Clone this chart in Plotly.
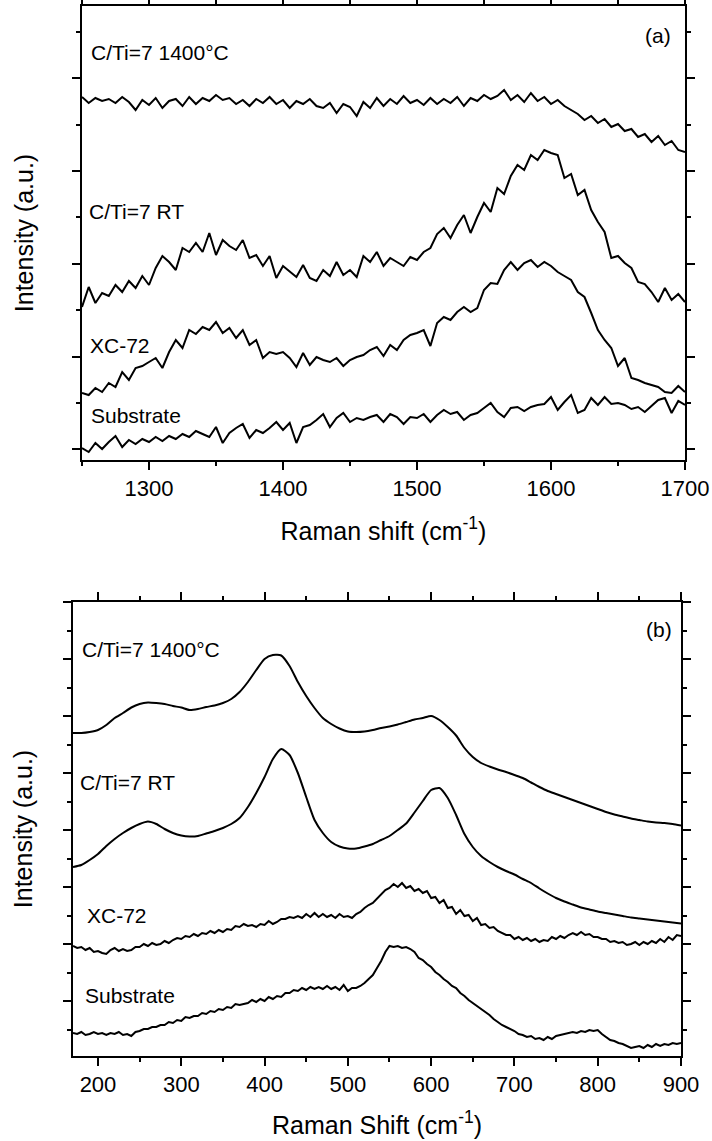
import plotly.graph_objects as go

# ---------------- Panel (a): 1250-1700 cm-1 ----------------
shift_a = list(range(1250, 1701, 5))

int_a_1400C = [
    363, 357, 362, 359, 361, 357, 363, 358, 350, 360,
    355, 362, 352, 359, 361, 354, 363, 356, 362, 359,
    365, 360, 362, 356, 360, 354, 361, 357, 363, 356,
    360, 352, 359, 356, 361, 354, 352, 357, 347, 356,
    353, 344, 358, 352, 362, 354, 361, 356, 364, 357,
    360, 355, 362, 356, 361, 357, 363, 354, 362, 359,
    365, 361, 364, 370, 360, 365, 358, 367, 359, 363,
    356, 360, 354, 350, 346, 340, 344, 337, 341, 333,
    336, 329, 331, 323, 326, 318, 324, 315, 319, 310,
    308]

int_a_RT = [
    153, 173, 157, 167, 164, 175, 168, 179, 172, 184,
    175, 192, 204, 198, 190, 212, 208, 217, 208, 227,
    205, 220, 214, 210, 220, 202, 205, 194, 204, 182,
    194, 188, 183, 195, 182, 179, 190, 184, 198, 185,
    190, 183, 204, 198, 208, 194, 202, 198, 194, 203,
    200, 208, 212, 226, 232, 222, 235, 245, 227, 243,
    257, 248, 272, 266, 284, 295, 290, 305, 300, 310,
    307, 305, 282, 286, 265, 270, 250, 238, 228, 202,
    204, 197, 192, 178, 176, 168, 158, 172, 160, 166,
    158]

int_a_XC72 = [
    67, 65, 72, 68, 77, 73, 88, 80, 92, 94,
    98, 102, 92, 108, 120, 112, 130, 126, 133, 130,
    138, 127, 132, 122, 130, 115, 120, 102, 108, 106,
    108, 102, 93, 107, 95, 103, 100, 98, 102, 94,
    100, 103, 105, 110, 113, 104, 115, 110, 120, 125,
    127, 130, 114, 137, 143, 140, 148, 153, 148, 152,
    170, 177, 176, 190, 198, 190, 197, 200, 193, 198,
    194, 188, 184, 180, 168, 163, 147, 130, 120, 112,
    94, 102, 82, 80, 77, 75, 73, 68, 67, 74,
    68]

int_a_sub = [
    12, 8, 17, 11, 18, 24, 13, 20, 16, 21,
    18, 23, 19, 24, 21, 26, 23, 29, 26, 23,
    33, 17, 27, 32, 36, 22, 30, 27, 32, 38,
    30, 37, 17, 33, 35, 40, 46, 33, 42, 47,
    38, 42, 40, 43, 45, 38, 46, 43, 36, 43,
    42, 46, 38, 45, 50, 46, 48, 40, 45, 47,
    52, 57, 48, 43, 52, 53, 49, 53, 55, 56,
    63, 50, 58, 65, 47, 50, 62, 55, 63, 56,
    57, 55, 51, 53, 48, 54, 60, 62, 47, 59,
    55]

# ---------------- Panel (b): 170-900 cm-1 ----------------
shift_b_smooth = list(range(170, 901, 10))
shift_b_noisy = list(range(170, 901, 5))

int_b_1400C = [
    323, 323, 324, 326, 331, 338, 343, 348.5, 352, 353.5,
    353, 352, 350, 348.5, 346, 347, 349, 350.5, 353, 357,
    364, 374, 386, 397, 401, 400.5, 390, 374, 360, 348,
    338, 332, 327.5, 324.5, 324, 324.5, 326, 328, 329.5, 331.5,
    334, 336.5, 338, 340, 336, 329, 320.5, 308, 299, 293,
    289.5, 286.5, 284, 281, 278, 273.5, 269, 265, 262, 259,
    256, 253, 250, 247, 244, 241.5, 239.5, 237.5, 236, 234.5,
    233.5, 233, 232, 230.5]

int_b_RT = [
    189, 191, 196, 202, 210, 217, 223, 228, 232, 234.5,
    232, 227, 223, 220.5, 219.5, 220, 222.5, 225, 228, 232,
    238, 249, 263, 279, 297, 307, 301, 283, 259, 236,
    223, 214, 209.5, 207.5, 207.5, 209.5, 212, 216, 220, 226,
    232.5, 243.5, 255, 266, 268, 258, 241, 222, 209, 200,
    194, 189, 185, 181.5, 177, 173, 167.5, 162.5, 158, 154.5,
    151.5, 148.5, 146.5, 144.5, 143, 141.5, 140, 138.5, 137.5, 136.5,
    135.5, 134.5, 133.5, 132.5]

int_b_XC72 = [
    110, 108, 109, 106, 108, 104, 105, 103, 102, 106,
    108, 105, 107, 105, 106, 109, 109, 112, 110, 113,
    111, 112, 115, 113, 116, 118, 117, 120, 119, 122,
    120, 123, 122, 125, 123, 126, 124, 127, 126, 130,
    129, 132, 130, 131, 129, 132, 131, 135, 132, 134,
    137, 137, 139, 138, 140, 138, 142, 139, 143, 139,
    142, 139, 141, 138, 142, 139, 140, 138, 142, 144,
    148, 151, 153, 157, 161, 166, 168, 172, 169, 173,
    168, 170, 165, 167, 163, 165, 158, 159, 153, 156,
    148, 149, 142, 146, 140, 141, 135, 138, 131, 132,
    128, 129, 125, 123, 121, 121, 117, 119, 116, 118,
    115, 117, 114, 116, 115, 119, 117, 120, 118, 121,
    123, 121, 124, 121, 122, 119, 119, 117, 117, 114,
    115, 113, 114, 111, 112, 114, 111, 114, 112, 115,
    113, 117, 114, 119, 116, 121, 120]

int_b_sub = [
    23, 22, 24, 21, 22, 24, 22, 23, 21, 23,
    22, 24, 21, 22, 20, 24, 25, 27, 27, 29,
    29, 31, 31, 34, 33, 36, 35, 39, 38, 40,
    40, 43, 42, 45, 44, 47, 46, 49, 48, 52,
    51, 52, 53, 56, 54, 57, 55, 59, 57, 60,
    59, 63, 63, 66, 65, 68, 66, 69, 67, 69,
    67, 70, 67, 69, 66, 71, 65, 68, 68, 70,
    73, 77, 81, 88, 95, 104, 110, 109, 110, 108,
    109, 107, 104, 98, 96, 92, 89, 84, 81, 77,
    74, 70, 68, 63, 60, 56, 53, 50, 47, 44,
    41, 37, 34, 31, 29, 27, 25, 22, 21, 19,
    20, 17, 18, 16, 19, 17, 20, 21, 22, 23,
    24, 23, 25, 24, 26, 25, 26, 22, 19, 16,
    15, 13, 12, 10, 8, 9, 10, 8, 11, 9,
    12, 10, 12, 11, 13, 12, 13]

labels = ["C/Ti=7 1400°C", "C/Ti=7 RT", "XC-72", "Substrate"]

FONT = "Liberation Sans, Arial, sans-serif"
LINE = dict(color="black", width=2)

fig = go.Figure()

for y in [int_a_1400C, int_a_RT, int_a_XC72, int_a_sub]:
    fig.add_trace(go.Scatter(x=shift_a, y=y, mode="lines", line=LINE,
                             xaxis="x", yaxis="y", showlegend=False))

fig.add_trace(go.Scatter(x=shift_b_smooth, y=int_b_1400C, mode="lines",
                         line=dict(LINE, shape="spline", smoothing=0.6), xaxis="x2", yaxis="y2", showlegend=False))
fig.add_trace(go.Scatter(x=shift_b_smooth, y=int_b_RT, mode="lines",
                         line=dict(LINE, shape="spline", smoothing=0.6), xaxis="x2", yaxis="y2", showlegend=False))
fig.add_trace(go.Scatter(x=shift_b_noisy, y=int_b_XC72, mode="lines",
                         line=LINE, xaxis="x2", yaxis="y2", showlegend=False))
fig.add_trace(go.Scatter(x=shift_b_noisy, y=int_b_sub, mode="lines",
                         line=LINE, xaxis="x2", yaxis="y2", showlegend=False))

W, H = 712, 1141
# pixel boxes of the two plot areas
ax_a = dict(l=82, r=685, t=6, b=460)
ax_b = dict(l=73, r=681, t=602, b=1056)


def dom(box):
    return ([box["l"] / W, box["r"] / W], [1 - box["b"] / H, 1 - box["t"] / H])


xa, ya = dom(ax_a)
xb, yb = dom(ax_b)

common_x = dict(showline=True, linecolor="black", linewidth=1.5, mirror="ticks",
                ticks="outside", ticklen=8, tickwidth=1.5, tickcolor="black",
                showgrid=False, zeroline=False, automargin=False,
                tickfont=dict(family=FONT, size=22, color="black"),
                title_font=dict(family=FONT, size=25, color="black"))
common_y = dict(showline=True, linecolor="black", linewidth=1.5, mirror="ticks",
                ticks="outside", ticklen=8, tickwidth=1.5, tickcolor="black",
                showgrid=False, zeroline=False, showticklabels=False, automargin=False,
                title_font=dict(family=FONT, size=25, color="black"))

fig.update_layout(
    width=W, height=H, autosize=False, margin=dict(l=0, r=0, t=0, b=0, pad=0),
    paper_bgcolor="white", plot_bgcolor="white",
    font=dict(family=FONT, color="black"),
    xaxis=dict(common_x, domain=xa, anchor="y", range=[1250, 1700],
               tick0=1300, dtick=100,
               minor=dict(dtick=50, tick0=1250, ticks="outside", ticklen=4, tickwidth=1.5, tickcolor="black"),
               title=dict(text="Raman shift (cm<sup>-1</sup>)", standoff=22)),
    yaxis=dict(common_y, domain=ya, anchor="x", range=[0, 454],
               tick0=10.7, dtick=92.8,
               minor=dict(dtick=46.4, tick0=10.7, ticks="outside", ticklen=4, tickwidth=1.5, tickcolor="black"),
               title=dict(text="Intensity (a.u.)", standoff=32)),
    xaxis2=dict(common_x, domain=xb, anchor="y2", range=[170, 900],
                tick0=200, dtick=100,
                minor=dict(dtick=50, tick0=200, ticks="outside", ticklen=4, tickwidth=1.5, tickcolor="black"),
                title=dict(text="Raman Shift (cm<sup>-1</sup>)", standoff=20)),
    yaxis2=dict(common_y, domain=yb, anchor="x2", range=[0, 454],
                tick0=55, dtick=57,
                minor=dict(dtick=28.5, tick0=55, ticks="outside", ticklen=4, tickwidth=1.5, tickcolor="black"),
                title=dict(text="Intensity (a.u.)", standoff=24)),
)

ANN_FONT = dict(family=FONT, size=21, color="black")


def add_label(text, px_left, px_cy, box, xref, yref):
    fig.add_annotation(text=text, xref=xref, yref=yref,
                       x=(px_left - box["l"]) / (box["r"] - box["l"]),
                       y=(box["b"] - px_cy) / (box["b"] - box["t"]),
                       xanchor="left", yanchor="middle", showarrow=False, font=ANN_FONT)


pos_a = [(89, 52), (87, 211), (88, 345), (89, 415)]
pos_b = [(80, 649), (78, 782), (85, 915), (83, 995)]
for t, (px, py) in zip(labels, pos_a):
    add_label(t, px, py, ax_a, "x domain", "y domain")
for t, (px, py) in zip(labels, pos_b):
    add_label(t, px, py, ax_b, "x2 domain", "y2 domain")

fig.add_annotation(text="(a)", xref="x domain", yref="y domain",
                   x=(658 - ax_a["l"]) / (ax_a["r"] - ax_a["l"]),
                   y=(ax_a["b"] - 35) / (ax_a["b"] - ax_a["t"]),
                   xanchor="center", yanchor="middle", showarrow=False, font=ANN_FONT)
fig.add_annotation(text="(b)", xref="x2 domain", yref="y2 domain",
                   x=(659 - ax_b["l"]) / (ax_b["r"] - ax_b["l"]),
                   y=(ax_b["b"] - 629) / (ax_b["b"] - ax_b["t"]),
                   xanchor="center", yanchor="middle", showarrow=False, font=ANN_FONT)

fig.write_html("out.html", config={"responsive": False})
